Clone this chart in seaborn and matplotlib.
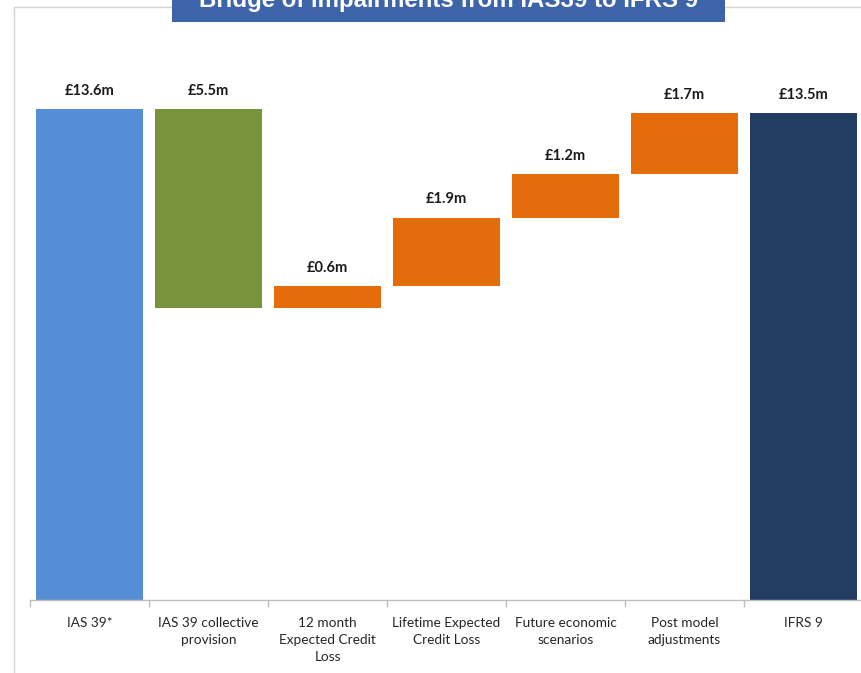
import numpy as np
import pandas as pd
import matplotlib
matplotlib.use("Agg")
import matplotlib.pyplot as plt
from matplotlib.patches import Rectangle
import seaborn as sns

# Bridge data (GBP millions)
categories = ["IAS 39*", "IAS 39 collective\nprovision", "12 month\nExpected Credit\nLoss",
              "Lifetime Expected\nCredit Loss", "Future economic\nscenarios",
              "Post model\nadjustments", "IFRS 9"]
values = [13.6, 5.5, 0.6, 1.9, 1.2, 1.7, 13.5]
steps = ["total", "down", "up", "up", "up", "up", "total"]
value_labels = ["£13.6m", "£5.5m", "£0.6m", "£1.9m", "£1.2m", "£1.7m", "£13.5m"]
bar_colors = ["#558ED5", "#77933C", "#E46C0A", "#E46C0A", "#E46C0A", "#E46C0A", "#233D62"]
title = "Bridge of impairments from IAS39 to IFRS 9"

# Floating bar bases from the running total
bases = []
running = 0.0
for v, s in zip(values, steps):
    if s == "total":
        bases.append(0.0)
        running = v
    elif s == "down":
        running -= v
        bases.append(running)
    else:
        bases.append(running)
        running += v

df = pd.DataFrame({"category": categories, "value": values})

sns.set_theme(style="white")
plt.rcParams["font.family"] = ["Lato", "DejaVu Sans"]

W, H = 862, 673
fig = plt.figure(figsize=(W / 100, H / 100), dpi=100)
ax = fig.add_axes([30 / W, (H - 600) / H, 833 / W, 570 / H])

sns.barplot(data=df, x="category", y="value", bottom=bases, width=0.9,
            color=bar_colors[0], saturation=1, errorbar=None, ax=ax,
            linewidth=0, order=categories)
for patch, c in zip(ax.patches, bar_colors):
    patch.set_facecolor(c)
    patch.set_edgecolor("none")

ax.bar_label(ax.containers[0], labels=value_labels, padding=8,
             fontsize=10.5, fontweight="bold", color="#1a1a1a")

ax.set_xlim(-0.5, len(categories) - 0.5)
ax.set_ylim(0, 15.8)
ax.set_xlabel("")
ax.set_ylabel("")
ax.set_yticks([])
for side in ["top", "right", "left"]:
    ax.spines[side].set_visible(False)
ax.spines["bottom"].set_color("#BFBFBF")
ax.spines["bottom"].set_linewidth(1.0)

ax.tick_params(axis="x", which="major", length=0, pad=12, labelsize=9.8, labelcolor="#262626")
ax.set_xticks(np.arange(-0.5, len(categories)), minor=True)
ax.tick_params(axis="x", which="minor", length=5, width=1, color="#BFBFBF",
               direction="out", bottom=True)
for lbl in ax.get_xticklabels():
    lbl.set_linespacing(1.5)

# Outer frame
fig.patches.append(Rectangle((14 / W, -0.1), 1.2, 1.1 - 7 / H, transform=fig.transFigure,
                             fill=False, edgecolor="#D4D4D4", linewidth=1.0, zorder=0))

# Title banner, its text running off the top edge
fig.patches.append(Rectangle((172 / W, (H - 22) / H), (725 - 172) / W, 30 / H,
                             transform=fig.transFigure, facecolor="#3D63A9",
                             edgecolor="none", zorder=2))
fig.text((172 + 725) / 2 / W, (H - 7) / H, title, ha="center", va="baseline",
         fontsize=17.3, fontweight="bold", color="white",
         family=["Liberation Sans", "DejaVu Sans"], zorder=3)

fig.savefig("out.png", dpi=100, facecolor="white")
